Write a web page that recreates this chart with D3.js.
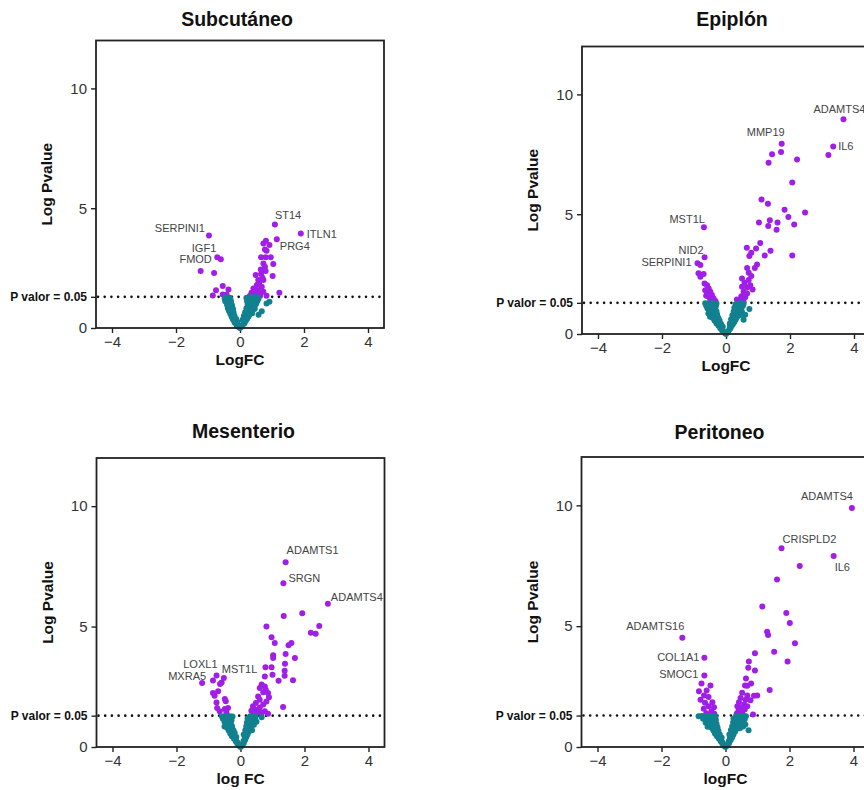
<!DOCTYPE html>
<html>
<head>
<meta charset="utf-8">
<script src="https://cdn.jsdelivr.net/npm/d3@7"></script>
<style>
  body { margin: 0; background: #fff; }
  svg { display: block; font-family: "Liberation Sans", Arial, sans-serif; }
</style>
</head>
<body>
<div id="chart"></div>
<script>
// -log10(p) threshold and axis ticks
var pCut = 0.05;
var xTicks = [-4, -2, 0, 2, 4];
var yTicks = [0, 5, 10];
var xDomain = [-4.5, 4.5];
var yDomain = [0, 12];

var panelTitles = ['Subcutáneo', 'Epiplón', 'Mesenterio', 'Peritoneo'];
var xLabels = ['LogFC', 'LogFC', 'log FC', 'logFC'];
var yLabel = 'Log Pvalue';
var cutLabel = 'P valor = 0.05';

// significant genes [logFC, -log10 p]
var subcutaneoSig = [[1.09,4.32],[1.90,3.94],[1.15,3.70],[-0.97,3.86],[-0.71,2.95],[-0.60,2.87],[-1.23,2.38],[-0.81,2.30],[-0.75,1.58],[-0.54,1.75],[-0.36,1.61],[-0.85,1.36],[-0.54,1.40],[-0.42,1.40],
  [0.81,3.64],[0.73,3.53],[0.92,3.46],[0.78,3.28],[0.83,3.22],[0.66,2.95],[0.80,2.95],[0.96,2.95],[0.73,2.69],[1.04,2.67],[0.78,2.56],[0.65,2.44],[0.80,2.38],[0.49,2.21],[0.66,2.25],[1.02,2.17],[0.57,2.0],[0.73,2.0],[0.52,1.79],[0.68,1.72],[0.42,1.65],[0.57,1.58],[0.73,1.51],[0.36,1.47],[0.47,1.44],[1.23,1.47],[0.63,1.35],[0.31,1.35],[0.83,1.35],[0.45,1.55],[0.60,1.90],[0.70,2.10],[0.62,1.45],[0.52,1.38],[0.40,1.32]];
var epiplonSig = [[3.67,8.96],[3.35,7.83],[3.20,7.47],[1.74,7.94],[1.72,7.60],[1.44,7.50],[1.33,7.15],[2.22,7.28],[2.07,6.32],[1.11,5.61],[1.31,5.44],[1.83,5.19],[2.47,5.07],[1.95,4.88],[1.37,4.75],[1.03,4.65],[1.61,4.65],[1.32,4.51],[2.13,4.57],[1.58,4.35],[1.07,3.80],[0.65,3.60],[0.94,3.57],[1.39,3.47],[0.79,3.39],[0.73,3.26],[1.21,3.28],[2.07,3.28],[0.97,2.90],[0.90,2.76],[0.66,2.76],[0.71,2.56],[0.79,2.42],[0.50,2.32],[0.71,2.25],[0.58,2.14],[0.76,2.04],[0.50,1.97],[0.66,1.94],[0.83,1.86],[0.55,1.76],[0.66,1.69],[0.48,1.58],[0.60,1.53],[0.34,1.44],[0.45,1.42],[0.55,1.35],
  [-0.69,4.46],[-0.67,3.20],[-0.89,2.95],[-0.80,2.88],[-0.86,2.54],[-0.70,2.50],[-0.80,2.39],[-0.67,2.11],[-0.59,2.04],[-0.54,1.90],[-0.65,1.83],[-0.49,1.76],[-0.59,1.69],[-0.44,1.63],[-0.54,1.56],[-0.39,1.49],[-0.49,1.44],[-0.33,1.38],[-0.62,1.60],[-0.45,1.35]];
var mesenterioSig = [[1.41,7.67],[1.34,6.80],[2.73,5.95],[1.93,5.55],[1.35,5.44],[0.81,5.00],[2.46,5.02],[2.20,4.74],[2.35,4.70],[0.97,4.56],[1.07,4.32],[1.59,4.32],[1.50,4.22],[1.41,3.86],[1.02,3.81],[1.02,3.70],[1.70,3.70],[1.39,3.46],[0.78,3.31],[0.97,3.31],[1.38,3.17],[1.00,3.00],[0.76,2.93],[1.38,2.96],[1.19,2.75],[1.64,2.77],[0.66,2.59],[0.76,2.51],[0.60,2.45],[0.79,2.38],[0.71,2.27],[0.86,2.24],[0.89,2.07],[0.55,2.10],[0.60,1.96],[0.81,1.89],[0.48,1.83],[0.71,1.76],[0.39,1.69],[0.60,1.64],[0.50,1.55],[0.34,1.51],[0.76,1.48],[0.66,1.41],[0.45,1.41],[1.33,1.66],[0.86,1.38],[0.55,1.45],[0.40,1.38],
  [-0.75,2.97],[-0.52,2.86],[-1.20,2.66],[-0.86,2.76],[-0.59,2.68],[-0.64,2.62],[-0.86,2.24],[-0.70,2.31],[-0.81,2.13],[-0.49,1.99],[-0.46,1.90],[-0.75,1.85],[-0.73,1.62],[-0.39,1.62],[-0.49,1.58],[-0.65,1.48],[-0.44,1.43]];
var peritoneoSig = [[3.95,9.89],[1.75,8.22],[3.38,7.90],[2.32,7.49],[1.61,6.93],[1.15,5.81],[1.90,5.54],[2.01,5.13],[1.30,4.77],[1.33,4.63],[2.17,4.29],[1.52,3.94],[0.92,3.88],[1.94,3.54],[0.73,3.54],[0.71,3.28],[0.92,3.17],[0.64,2.83],[1.38,2.36],[0.80,2.63],[0.61,2.54],[0.68,2.53],[0.99,2.13],[0.89,2.12],[0.52,2.24],[0.68,2.13],[0.47,2.03],[0.63,1.96],[0.78,1.93],[0.42,1.85],[0.58,1.76],[0.37,1.69],[0.68,1.69],[0.47,1.62],[0.86,1.34],[0.40,1.48],[0.52,1.41],[0.60,1.55],[0.35,1.38],
  [-1.35,4.52],[-0.66,3.69],[-0.66,2.96],[-0.75,2.63],[-0.47,2.54],[-0.83,2.31],[-0.59,2.34],[-0.67,2.13],[-0.53,2.07],[-0.78,1.96],[-0.64,1.83],[-0.41,1.85],[-0.53,1.69],[-0.36,1.65],[-0.68,1.58],[-0.44,1.48],[-0.60,1.40],[-0.35,1.38]];

// non significant genes
var subcutaneoNs = [[-0.44,1.28],[-0.38,1.27],[-0.32,1.26],[-0.42,1.18],[-0.35,1.15],[-0.43,1.08],[-0.36,1.02],[-0.40,0.95],[-0.33,0.90],[-0.38,0.82],[-0.30,0.78],[-0.34,0.70],[-0.27,0.66],[-0.30,0.58],[-0.24,0.54],[-0.26,0.46],[-0.20,0.42],[-0.22,0.35],[-0.16,0.30],[-0.17,0.23],[-0.12,0.18],[-0.10,0.12],[-0.06,0.07],[-0.03,0.03],
  [-0.48,1.22],[-0.46,1.12],[-0.30,1.20],[-0.28,1.10],[-0.25,0.95],[-0.22,0.80],[-0.20,0.65],[-0.17,0.50],[-0.12,0.38],[-0.08,0.25],
  [0,0],[0.03,0.04],[0.07,0.10],[0.10,0.16],[0.14,0.20],[0.12,0.26],[0.18,0.30],[0.15,0.36],[0.22,0.38],[0.20,0.46],[0.27,0.48],[0.24,0.55],[0.31,0.58],[0.28,0.65],[0.36,0.66],[0.33,0.75],[0.41,0.76],[0.30,0.84],[0.38,0.86],[0.45,0.88],[0.34,0.95],[0.42,0.98],[0.50,1.00],[0.30,1.05],[0.38,1.08],[0.46,1.10],[0.54,1.12],[0.27,1.18],[0.35,1.20],[0.43,1.22],[0.50,1.24],[0.58,1.22],[0.25,1.27],[0.33,1.28],[0.41,1.28],[0.49,1.28],
  [0.20,1.25],[0.22,1.12],[0.24,0.98],[0.20,0.82],[0.16,0.66],[0.12,0.50],[0.08,0.34],[0.52,1.18],[0.56,1.28],[0.46,0.80],[0.38,0.62],
  [0.92,1.10],[0.83,1.02],[0.68,0.70],[0.58,0.55]];
var epiplonNs = [[-0.65,1.28],[-0.56,1.27],[-0.47,1.28],[-0.38,1.27],[-0.30,1.26],[-0.62,1.18],[-0.52,1.15],[-0.42,1.17],[-0.58,1.06],[-0.48,1.02],[-0.38,1.05],[-0.53,0.94],[-0.43,0.90],[-0.47,0.80],[-0.37,0.78],[-0.42,0.68],[-0.32,0.66],[-0.36,0.56],[-0.27,0.55],[-0.30,0.45],[-0.22,0.44],[-0.24,0.35],[-0.17,0.32],[-0.18,0.24],[-0.12,0.20],[-0.12,0.14],[-0.07,0.09],[-0.04,0.04],[0,0],
  [-0.32,1.14],[-0.30,0.95],[-0.28,0.82],[-0.24,0.68],[-0.20,0.56],[-0.15,0.42],[-0.10,0.30],[-0.55,0.86],[-0.50,0.72],
  [0.03,0.05],[0.07,0.10],[0.10,0.18],[0.14,0.24],[0.12,0.30],[0.18,0.34],[0.22,0.42],[0.17,0.46],[0.26,0.50],[0.22,0.56],[0.30,0.60],[0.26,0.68],[0.34,0.70],[0.30,0.80],[0.38,0.82],[0.35,0.92],[0.43,0.94],[0.32,1.02],[0.40,1.05],[0.48,1.06],[0.36,1.15],[0.45,1.17],[0.53,1.18],[0.40,1.27],[0.48,1.28],[0.55,1.26],
  [0.30,1.24],[0.26,1.10],[0.24,0.94],[0.20,0.78],[0.16,0.62],[0.12,0.44],[0.44,0.78],[0.50,0.92],
  [0.73,1.04],[0.60,0.80],[0.55,0.60]];
var mesenterioNs = [[-0.58,1.27],[-0.50,1.28],[-0.42,1.27],[-0.33,1.28],[-0.25,1.27],[-0.55,1.17],[-0.46,1.15],[-0.37,1.17],[-0.50,1.05],[-0.41,1.02],[-0.46,0.93],[-0.37,0.90],[-0.42,0.80],[-0.33,0.78],[-0.37,0.68],[-0.29,0.66],[-0.32,0.56],[-0.24,0.55],[-0.27,0.45],[-0.19,0.44],[-0.21,0.35],[-0.15,0.32],[-0.15,0.24],[-0.10,0.20],[-0.10,0.14],[-0.05,0.09],[-0.03,0.04],[0,0],
  [-0.28,1.12],[-0.30,0.98],[-0.26,0.85],[-0.22,0.70],[-0.18,0.58],[-0.13,0.42],[-0.50,0.85],
  [0.03,0.04],[0.06,0.10],[0.10,0.16],[0.09,0.24],[0.14,0.28],[0.13,0.36],[0.18,0.40],[0.16,0.48],[0.22,0.52],[0.20,0.60],[0.26,0.64],[0.23,0.72],[0.30,0.76],[0.26,0.85],[0.34,0.88],[0.30,0.97],[0.38,1.00],[0.28,1.08],[0.36,1.10],[0.44,1.12],[0.30,1.20],[0.38,1.22],[0.46,1.20],[0.30,1.28],[0.38,1.28],[0.46,1.28],
  [0.22,1.18],[0.20,1.02],[0.18,0.86],[0.15,0.70],[0.10,0.52],[0.42,0.92],[0.36,0.70],
  [0.66,1.24],[0.50,1.05]];
var peritoneoNs = [[-0.84,1.27],[-0.75,1.28],[-0.66,1.27],[-0.57,1.28],[-0.48,1.27],[-0.39,1.28],[-0.31,1.26],[-0.70,1.17],[-0.60,1.15],[-0.50,1.17],[-0.40,1.16],[-0.55,1.05],[-0.46,1.02],[-0.36,1.05],[-0.50,0.93],[-0.40,0.90],[-0.44,0.80],[-0.34,0.78],[-0.38,0.68],[-0.29,0.66],[-0.33,0.56],[-0.25,0.55],[-0.27,0.45],[-0.19,0.44],[-0.21,0.35],[-0.15,0.32],[-0.15,0.24],[-0.10,0.20],[-0.10,0.14],[-0.05,0.09],[-0.03,0.04],[0,0],
  [-0.30,1.12],[-0.28,0.95],[-0.25,0.82],[-0.22,0.66],[-0.18,0.52],[-0.12,0.38],[-0.56,0.84],[-0.62,1.00],
  [0.03,0.04],[0.06,0.10],[0.11,0.16],[0.10,0.24],[0.16,0.28],[0.14,0.36],[0.21,0.40],[0.18,0.48],[0.25,0.52],[0.22,0.60],[0.30,0.64],[0.27,0.72],[0.35,0.76],[0.30,0.85],[0.40,0.88],[0.34,0.97],[0.44,1.00],[0.52,1.02],[0.34,1.08],[0.43,1.10],[0.52,1.13],[0.60,1.15],[0.33,1.20],[0.42,1.22],[0.50,1.20],[0.58,1.24],[0.33,1.28],[0.41,1.28],[0.49,1.27],[0.57,1.28],[0.64,1.27],
  [0.25,1.18],[0.24,1.02],[0.21,0.86],[0.17,0.70],[0.12,0.52],[0.45,0.78],[0.48,0.92],
  [0.72,0.69],[0.62,0.93],[0.55,0.85]];

// labelled genes
var subcutaneoGenes = [['SERPINI1',-0.97,3.86],['IGF1',-0.71,2.95],['FMOD',-0.60,2.87],['ST14',1.09,4.32],['ITLN1',1.90,3.94],['PRG4',1.15,3.70]];
var epiplonGenes = [['ADAMTS4',3.67,8.96],['IL6',3.35,7.83],['MMP19',1.74,7.94],['MST1L',-0.69,4.46],['NID2',-0.67,3.20],['SERPINI1',-0.89,2.95]];
var mesenterioGenes = [['ADAMTS1',1.41,7.67],['SRGN',1.34,6.80],['ADAMTS4',2.73,5.95],['LOXL1',-0.75,2.97],['MXRA5',-1.20,2.66],['MST1L',-0.52,2.86]];
var peritoneoGenes = [['ADAMTS4',3.95,9.89],['CRISPLD2',1.75,8.22],['IL6',3.38,7.90],['ADAMTS16',-1.35,4.52],['COL1A1',-0.66,3.69],['SMOC1',-0.66,2.96]];

// ---- layout ----
var W = 864, H = 790;
var PW = 288;
var colSig = '#a01ee8', colNs = '#12818f';

var panels = [
    { title: panelTitles[0], xLab: xLabels[0], sig: subcutaneoSig, ns: subcutaneoNs, genes: subcutaneoGenes, left: 96, top: 40.5, h: 287.5, titleDx: -3, titleY: 26 },
    { title: panelTitles[1], xLab: xLabels[1], sig: epiplonSig, ns: epiplonNs, genes: epiplonGenes, left: 582, top: 46.5, h: 287.5, titleDx: 6, titleY: 26 },
    { title: panelTitles[2], xLab: xLabels[2], sig: mesenterioSig, ns: mesenterioNs, genes: mesenterioGenes, left: 96.5, top: 458, h: 289, titleDx: 3, titleY: 438 },
    { title: panelTitles[3], xLab: xLabels[3], sig: peritoneoSig, ns: peritoneoNs, genes: peritoneoGenes, left: 581.5, top: 457, h: 290, titleDx: -6, titleY: 439 }
];

// label placement relative to the point: [anchor, dx, dy]
var labelPos = [
    { SERPINI1: ['end', -4, -4], IGF1: ['end', -1, -5], FMOD: ['end', -9, 4], ST14: ['start', 0, -6], ITLN1: ['start', 6, 4], PRG4: ['start', 3, 11] },
    { ADAMTS4: ['start', -30, -6], IL6: ['start', 5, 4], MMP19: ['end', 3, -8], MST1L: ['end', 1, -4], NID2: ['end', -1, -3], SERPINI1: ['end', -6, 3] },
    { ADAMTS1: ['start', 1, -8], SRGN: ['start', 5, -1], ADAMTS4: ['start', 3, -3], LOXL1: ['end', 1, -7], MXRA5: ['end', 4, -3], MST1L: ['start', -2, -5] },
    { ADAMTS4: ['end', 1, -8], CRISPLD2: ['start', 1, -5], IL6: ['start', 1, 15], ADAMTS16: ['end', 2, -8], COL1A1: ['end', -5, 3], SMOC1: ['end', -6, 3] }
];

var svg = d3.select('#chart').append('svg')
    .attr('width', W).attr('height', H);

var cut = -Math.log10(pCut);

panels.forEach(function (p, i) {
    drawPanel(p, labelPos[i]);
});

function drawPanel(p, pos) {
    var x = d3.scaleLinear().domain(xDomain).range([0, PW]);
    var y = d3.scaleLinear().domain(yDomain).range([p.h, 0]);
    var g = svg.append('g').attr('transform', 'translate(' + p.left + ',' + p.top + ')');

    // title
    g.append('text')
        .attr('x', PW / 2 + p.titleDx)
        .attr('y', p.titleY - p.top)
        .attr('text-anchor', 'middle')
        .style('font-size', '19.5px').style('font-weight', 'bold').style('fill', '#111')
        .text(p.title);

    // axes
    var yAxis = d3.axisLeft(y).tickValues([0, cut, 5, 10]).tickSize(5).tickPadding(4)
        .tickFormat(function (d) { return d === cut ? cutLabel : d; });
    var ya = g.append('g').call(yAxis);
    ya.select('.domain').remove();
    ya.selectAll('line').attr('stroke', '#222').attr('stroke-width', 1.4);
    ya.selectAll('text').style('font-size', '15px').style('fill', '#333').attr('font-family', null);
    ya.selectAll('text').filter(function (d) { return d === cut; })
        .style('font-size', '12px').style('font-weight', 'bold').style('fill', '#111');

    var xAxis = d3.axisBottom(x).tickValues(xTicks).tickSize(5).tickPadding(3);
    var xa = g.append('g').attr('transform', 'translate(0,' + p.h + ')').call(xAxis);
    xa.select('.domain').remove();
    xa.selectAll('line').attr('stroke', '#222').attr('stroke-width', 1.4);
    xa.selectAll('text').style('font-size', '15px').style('fill', '#333').attr('font-family', null);

    // axis titles
    g.append('text')
        .attr('transform', 'translate(-44,' + (p.h / 2) + ') rotate(-90)')
        .attr('text-anchor', 'middle')
        .style('font-size', '15.5px').style('font-weight', 'bold').style('fill', '#111')
        .text(yLabel);
    g.append('text')
        .attr('x', x(0)).attr('y', p.h + 37)
        .attr('text-anchor', 'middle')
        .style('font-size', '15.5px').style('font-weight', 'bold').style('fill', '#111')
        .text(p.xLab);

    // threshold line (under the points)
    g.append('line')
        .attr('x1', 2).attr('x2', PW)
        .attr('y1', y(cut)).attr('y2', y(cut))
        .attr('stroke', '#111').attr('stroke-width', 2.6)
        .attr('stroke-linecap', 'round')
        .attr('stroke-dasharray', '0,6.7');

    // points
    g.append('g').selectAll('circle.sig').data(p.sig).enter().append('circle')
        .attr('class', 'sig')
        .attr('cx', function (d) { return x(d[0]); })
        .attr('cy', function (d) { return y(d[1]); })
        .attr('r', 3)
        .style('fill', colSig);
    g.append('g').selectAll('circle.ns').data(p.ns).enter().append('circle')
        .attr('class', 'ns')
        .attr('cx', function (d) { return x(d[0]); })
        .attr('cy', function (d) { return y(d[1]); })
        .attr('r', 3)
        .style('fill', colNs);

    // gene labels
    g.append('g').selectAll('text').data(p.genes).enter().append('text')
        .attr('x', function (d) { return x(d[1]) + pos[d[0]][1]; })
        .attr('y', function (d) { return y(d[2]) + pos[d[0]][2]; })
        .attr('text-anchor', function (d) { return pos[d[0]][0]; })
        .style('font-size', '11px').style('fill', '#444')
        .text(function (d) { return d[0]; });

    // frame
    g.append('rect')
        .attr('width', PW).attr('height', p.h)
        .attr('fill', 'none').attr('stroke', '#222').attr('stroke-width', 1.8);
}
</script>
</body>
</html>
